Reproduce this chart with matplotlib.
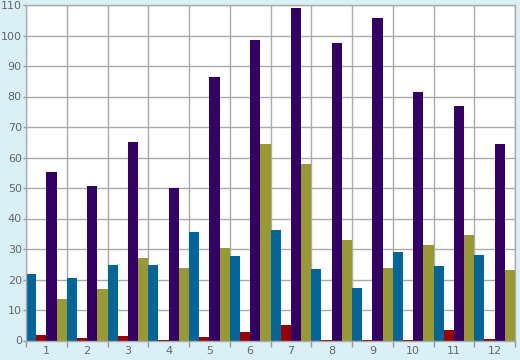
import matplotlib
matplotlib.use("Agg")
import matplotlib.pyplot as plt
import numpy as np

categories = ["1", "2", "3", "4", "5", "6", "7", "8", "9", "10", "11", "12"]
blue = [21.8, 20.5, 24.8, 24.8, 35.6, 27.7, 36.2, 23.4, 17.2, 29.0, 24.4, 28.0]
red = [1.8, 0.8, 1.5, 0.3, 1.1, 2.8, 5.1, 0.2, 0.2, 0.2, 3.4, 0.5]
purple = [55.2, 50.6, 65.0, 50.0, 86.5, 98.5, 109.0, 97.5, 105.7, 81.5, 76.9, 64.5]
olive = [13.6, 16.9, 27.0, 23.8, 30.3, 64.5, 58.0, 32.9, 23.8, 31.3, 34.6, 23.1]
yticks = list(range(0, 111, 10))

series = [blue, red, purple, olive]
colors = ["#006699", "#990000", "#330066", "#999933"]

fig = plt.figure(figsize=(5.2, 3.6), dpi=100, facecolor="#d9f0f7")
ax = fig.add_axes([26/520, 19.5/360, 489/520, 335.5/360])
ax.set_facecolor("white")
ax.set_axisbelow(True)

n = len(categories)
x = np.arange(n)
w = 0.25
for k, (vals, c) in enumerate(zip(series, colors)):
    ax.bar(x + k * w, vals, width=w, align="edge", color=c, linewidth=0, zorder=2)

ax.set_xlim(0, n)
ax.set_ylim(0, 110)
ax.set_yticks(yticks)
ax.set_xticks(np.arange(n + 1))
ax.set_xticklabels([])
ax.set_xticks(x + 0.5, minor=True)
ax.set_xticklabels(categories, minor=True)
ax.tick_params(axis="x", which="major", length=4, color="#999999", width=1)
ax.tick_params(axis="x", which="minor", length=0, pad=4, labelsize=8, labelcolor="#666666")
ax.tick_params(axis="y", length=2, color="#999999", width=1, pad=1, labelsize=8, labelcolor="#666666")
ax.grid(True, which="major", color="#aaaaaa", linewidth=1, zorder=0)
for s in ax.spines.values():
    s.set_color("#aaaaaa")
    s.set_linewidth(1)

fig.savefig("out.png", dpi=100, facecolor=fig.get_facecolor())
